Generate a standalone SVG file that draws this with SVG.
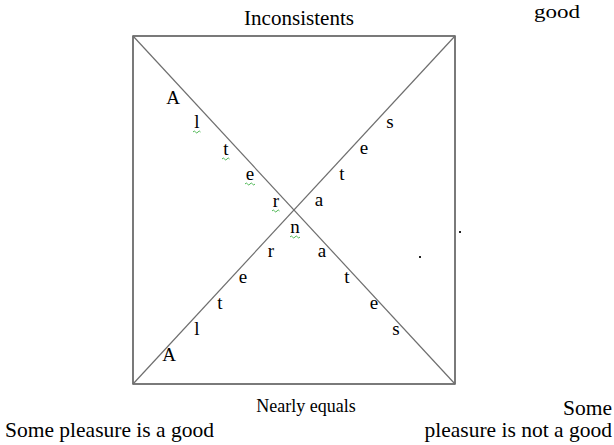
<svg xmlns="http://www.w3.org/2000/svg" width="614" height="445" viewBox="0 0 614 445">
<style>
  .lbl { font-family: "Liberation Serif", "Times New Roman", serif; fill: #000; }
  .ltr { font-family: "Liberation Serif", "Times New Roman", serif; font-size: 19px; fill: #000; text-anchor: middle; }
  .sq { fill: none; stroke: #3cb043; stroke-width: 0.9; }
</style>
<rect width="614" height="445" fill="#fff"/>
<g id="frame">
  <rect x="133" y="36" width="322" height="348" fill="none" stroke="#333" stroke-width="1.3"/>
</g>
<g id="connectors" stroke="#6e6e6e" stroke-width="1.2">
  <line x1="133" y1="36" x2="455" y2="384"/>
  <line x1="455" y1="36" x2="133" y2="384"/>
</g>
<g id="title-top">
  <text class="lbl" x="244" y="25" font-size="20" textLength="110" lengthAdjust="spacingAndGlyphs">Inconsistents</text>
</g>
<g id="good-top">
  <text class="lbl" x="534" y="18" font-size="19" textLength="46" lengthAdjust="spacingAndGlyphs">good</text>
</g>
<g id="title-bottom">
  <text class="lbl" x="306" y="412" font-size="18" text-anchor="middle">Nearly equals</text>
</g>
<g id="left-caption">
  <text class="lbl" x="5" y="437" font-size="21.5">Some pleasure is a good</text>
</g>
<g id="right-caption">
  <text class="lbl" x="612" y="415" font-size="21.5" text-anchor="end">Some</text>
  <text class="lbl" x="612" y="437" font-size="21.5" text-anchor="end">pleasure is not a good</text>
</g>
<g id="diag-upper-left">
  <text class="ltr" x="173" y="104">A</text>
  <text class="ltr" x="197" y="128">l</text>
  <text class="ltr" x="226" y="155">t</text>
  <text class="ltr" x="250" y="180">e</text>
  <text class="ltr" x="276" y="207">r</text>
  <text class="ltr" x="295" y="233">n</text>
</g>
<g id="diag-upper-right">
  <text class="ltr" x="319" y="206">a</text>
  <text class="ltr" x="342" y="180">t</text>
  <text class="ltr" x="364" y="154">e</text>
  <text class="ltr" x="390" y="128">s</text>
</g>
<g id="diag-lower-left">
  <text class="ltr" x="271" y="257">r</text>
  <text class="ltr" x="243" y="283">e</text>
  <text class="ltr" x="220" y="309">t</text>
  <text class="ltr" x="197" y="335">l</text>
  <text class="ltr" x="169" y="361">A</text>
</g>
<g id="diag-lower-right">
  <text class="ltr" x="322" y="257">a</text>
  <text class="ltr" x="347" y="283">t</text>
  <text class="ltr" x="374" y="309">e</text>
  <text class="ltr" x="396" y="335">s</text>
</g>
<g id="squiggles">
  <path class="sq" d="M193 132 q1.25 -2 2.5 0 t2.5 0 t2.5 0"/>
  <path class="sq" d="M222 159 q1.25 -2 2.5 0 t2.5 0 t2.5 0"/>
  <path class="sq" d="M245 184 q1.25 -2 2.5 0 t2.5 0 t2.5 0 t2.5 0"/>
  <path class="sq" d="M272 211 q1.25 -2 2.5 0 t2.5 0 t2.5 0"/>
  <path class="sq" d="M290 237 q1.25 -2 2.5 0 t2.5 0 t2.5 0 t2.5 0"/>
</g>
<g id="dots" fill="#222">
  <rect x="459" y="231" width="2" height="2"/>
  <rect x="419" y="256" width="2" height="2"/>
</g>
</svg>
